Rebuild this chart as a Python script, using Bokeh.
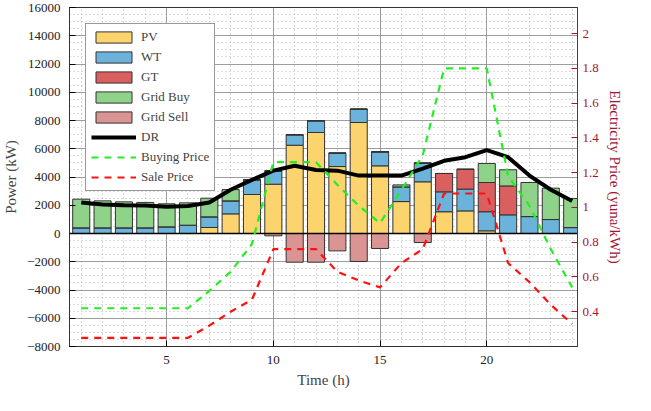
from bokeh.plotting import figure
from bokeh.models import Range1d, LinearAxis, Legend, LegendItem, FixedTicker
from bokeh.embed import file_html
from bokeh.resources import INLINE

hours = list(range(1, 25))
pv = [0,0,0,0,0,0,425,1390,2760,3490,6250,7150,4740,7860,4790,2260,3660,1540,1600,190,0,0,0,0]
wt = [400,400,400,400,470,590,755,920,1040,940,740,830,950,940,990,1040,1320,1410,1540,1350,1320,1200,990,420]
gt = [0,0,0,0,0,0,0,0,0,0,0,0,0,0,0,0,0,1300,1410,2070,2050,0,0,0]
grid_buy = [2030,1910,1840,1800,1630,1580,1320,800,0,0,0,0,0,0,0,140,0,0,0,1350,1140,2410,2220,2060]
grid_sell = [0,0,0,0,0,0,0,0,0,165,2030,2030,1230,1980,1060,0,640,0,0,0,0,0,0,0]
dr = [2200,2050,2000,1980,1900,1950,2200,3100,3800,4450,4800,4500,4450,4100,4100,4100,4600,5150,5400,5900,5400,4100,3100,2300]
buy_price = [0.42,0.42,0.42,0.42,0.42,0.42,0.52,0.63,0.79,1.26,1.26,1.26,1.13,1.01,0.91,1.1,1.3,1.8,1.8,1.8,1.18,1.01,0.76,0.54]
sale_price = [0.25,0.25,0.25,0.25,0.25,0.25,0.32,0.4,0.47,0.76,0.76,0.76,0.63,0.58,0.54,0.68,0.76,1.08,1.08,1.08,0.68,0.57,0.44,0.33]
left_ticks = list(range(-8000, 16001, 2000))
right_ticks = [0.4, 0.6, 0.8, 1.0, 1.2, 1.4, 1.6, 1.8, 2.0]
x_ticks = [5, 10, 15, 20]

FONT = "Liberation Serif"
p = figure(width=635, height=395, output_backend="svg", toolbar_location=None,
           x_range=Range1d(0.45, 24.25), y_range=Range1d(-8000, 16000),
           min_border_left=54, min_border_right=58, min_border_top=7, min_border_bottom=49)
p.extra_y_ranges = {"price": Range1d(0.2, 2.15)}

cols = {"PV": "#FBD46D", "WT": "#6BB3DB", "GT": "#D9605F", "Grid Buy": "#8FD38A", "Grid Sell": "#DB9494"}
src = dict(x=hours, PV=pv, WT=wt, GT=gt, **{"Grid Buy": grid_buy})
stack = p.vbar_stack(["PV", "WT", "GT", "Grid Buy"], x="x", width=0.8, source=src,
                     color=[cols[k] for k in ["PV", "WT", "GT", "Grid Buy"]],
                     line_color="#333333", line_width=1)
neg = [-v for v in grid_sell]
sell = p.vbar(x=hours, top=0, bottom=neg, width=0.8, fill_color=cols["Grid Sell"], line_color="#333333")
p.line([0.45, 24.25], [0, 0], line_color="black", line_width=1.5)
drl = p.line(hours, dr, line_color="black", line_width=4)
bl = p.line(hours, buy_price, y_range_name="price", line_color="#22EE22", line_width=2.2, line_dash="7 6")
sl = p.line(hours, sale_price, y_range_name="price", line_color="#FF1111", line_width=2.2, line_dash="7 6")

ax = LinearAxis(y_range_name="price", axis_label="Electricity Price (yuna/kWh)",
                ticker=FixedTicker(ticks=right_ticks, minor_ticks=[]))
p.add_layout(ax, "right")

lax = p.left[0]
lax.ticker = FixedTicker(ticks=left_ticks, minor_ticks=list(range(-8000, 16001, 500)))
lax.axis_label = "Power (kW)"
bax = p.below[0]
bax.ticker = FixedTicker(ticks=x_ticks, minor_ticks=list(range(1, 25)))
bax.axis_label = "Time (h)"

for a in [lax, bax, ax]:
    a.major_label_text_font = FONT; a.axis_label_text_font = FONT
    a.major_label_text_font_size = "13px"; a.axis_label_text_font_size = "15px"
    a.axis_label_text_font_style = "normal"
    a.major_tick_in = 6; a.major_tick_out = 0; a.minor_tick_line_color = None
    a.axis_line_color = "#333333"; a.major_label_text_color = "#222222"
red = "#A2142F"
ax.axis_line_color = red; ax.major_tick_line_color = red; ax.major_label_text_color = red
ax.axis_label_text_color = red

p.grid.grid_line_color = "#888888"; p.grid.grid_line_alpha = 0.8
p.grid.minor_grid_line_color = "#bbbbbb"; p.grid.minor_grid_line_dash = "1 3"
p.outline_line_color = "#333333"

items = [LegendItem(label="PV", renderers=[stack[0]]), LegendItem(label="WT", renderers=[stack[1]]),
         LegendItem(label="GT", renderers=[stack[2]]), LegendItem(label="Grid Buy", renderers=[stack[3]]),
         LegendItem(label="Grid Sell", renderers=[sell]), LegendItem(label="DR", renderers=[drl]),
         LegendItem(label="Buying Price", renderers=[bl]), LegendItem(label="Sale Price", renderers=[sl])]
leg = Legend(items=items, location="top_left", label_text_font=FONT, label_text_font_size="13px",
             glyph_width=45, glyph_height=14, spacing=4, padding=5, margin=16, label_height=14,
             border_line_color="#333333", background_fill_alpha=1)
p.add_layout(leg, "center")

open("out.html", "w").write(file_html(p, INLINE))
